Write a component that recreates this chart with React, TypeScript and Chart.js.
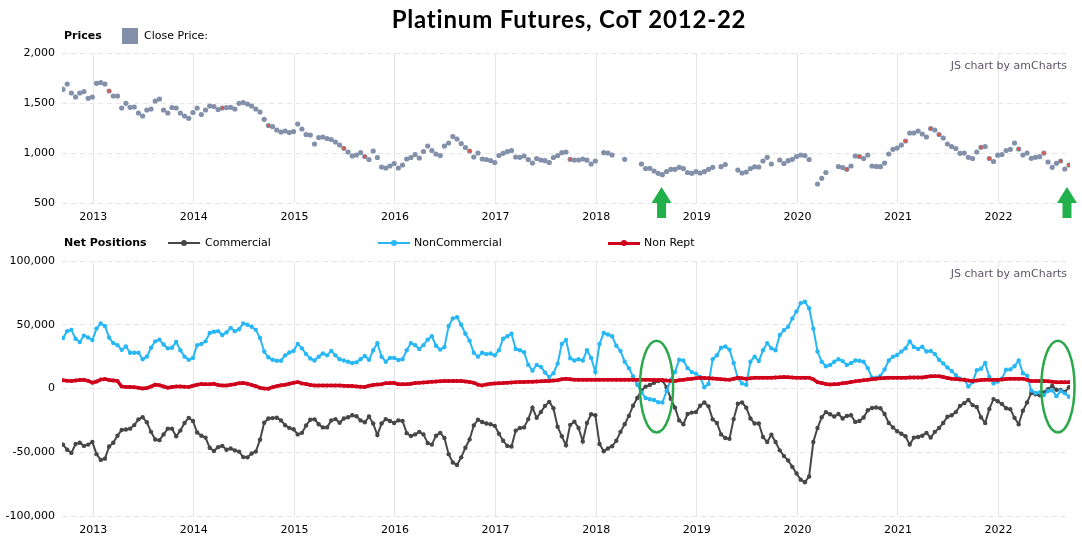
import React, { useEffect, useRef } from "react";
import { Chart, registerables } from "chart.js";

Chart.register(...registerables);

// Semi-monthly observations, first one at 2012.70 (decimal year)
const START_YEAR = 2012.7;
const STEP_YEARS = 1 / 24;
const yearTicks = [2013, 2014, 2015, 2016, 2017, 2018, 2019, 2020, 2021, 2022];

// Platinum close price (USD/oz); null = no quote in that half-month
const closePrice: (number | null)[] = [
  1637, 1690, 1600, 1560, 1600, 1615, 1547, 1560, 1697, 1705,
  1690, 1620, 1570, 1570, 1450, 1497, 1457, 1460, 1400, 1370,
  1430, 1440, 1520, 1540, 1430, 1400, 1455, 1450, 1400, 1370,
  1347, 1405, 1450, 1385, 1430, 1470, 1465, 1435, 1450, 1455,
  1457, 1440, 1497, 1505, 1490, 1470, 1440, 1410, 1337, 1275,
  1265, 1230, 1210, 1220, 1205, 1215, 1290, 1240, 1185, 1180,
  1090, 1155, 1160, 1145, 1135, 1110, 1080, 1047, 1010, 970,
  980, 1005, 965, 935, 1020, 955, 860, 850, 870, 895,
  850, 880, 940, 955, 985, 950, 1015, 1070, 1025, 990,
  975, 1070, 1100, 1165, 1140, 1095, 1055, 1020, 960, 1000,
  940, 935, 925, 905, 975, 997, 1013, 1025, 960, 957,
  970, 935, 900, 945, 930, 923, 905, 955, 975, 1003,
  1010, 937, 930, 930, 940, 928, 890, 920, null, 1003,
  1000, 980, null, null, 937, null, null, null, 890, 845,
  847, 820, 797, 783, 815, 837, 837, 857, 845, 805,
  797, 813, 800, 813, 837, 857, null, 863, 885, null,
  null, 830, 800, 810, 845, 862, 860, 920, 957, 890,
  null, 930, 895, 923, 937, 965, 980, 975, 935, null,
  690, 747, 805, null, null, 865, 855, 837, 870, 970,
  965, 945, 980, 870, 866, 863, 900, 990, 1037, 1050,
  1080, 1120, 1200, 1200, 1220, 1190, 1160, 1245, 1230, 1185,
  1150, 1090, 1065, 1045, 997, 1000, 957, 945, 1010, 1057,
  1065, 945, 915, 978, 985, 1025, 1037, 1100, 1040, 980,
  1000, 947, 957, 963, 1000, 910, 857, 897, 920, 840,
  880,
];

// Half-months whose close is flagged red (down week) in the price panel
const redPriceIdx = [11, 38, 49, 67, 72, 97, 121, 187, 190, 201, 207, 209, 219, 221, 228, 234, 238, 240];

// Net positions, thousands of contracts
const commercialK = [
  -44, -48, -50.5, -43.5, -42.5, -45, -44, -42, -51.5, -56,
  -55, -45.5, -42.5, -37, -32.5, -32.2, -31.5, -28.7, -24.2, -22.5,
  -26.5, -34, -40, -40.5, -36, -31.5, -31.5, -37.5, -33, -27,
  -23, -25.5, -34.5, -37, -38.5, -46.5, -49, -46, -45, -48,
  -47, -48.5, -49.5, -53.8, -54, -51, -49.5, -40.2, -26.9, -23.5,
  -23.2, -22.9, -25, -28.8, -30.9, -32, -36, -34.8, -29, -24.5,
  -24.2, -28, -30.5, -30.5, -25, -24, -26.9, -23.5, -22.6, -21,
  -21.8, -25, -26.5, -22, -27.5, -36.5, -27.5, -24, -25.5, -27,
  -25, -25.5, -35, -37.3, -36, -34, -36, -42.8, -44, -37,
  -34.8, -38.8, -51.5, -58, -60, -54, -46.5, -40, -29, -24.5,
  -26.3, -27.4, -28, -29.3, -35.5, -41, -45, -45.5, -33, -31,
  -30.5, -24, -15, -23, -18.5, -13.6, -10.5, -15.5, -30, -37.5,
  -44.5, -28.5, -26, -31, -41.5, -27, -20.2, -21, -43.5, -49.2,
  -47, -45.3, -41, -34, -28, -21.5, -13.5, -7.5, -1.5, 1.5,
  2.8, 4.5, 5.9, 6.2, 1, -8, -15, -25, -28, -20,
  -18.9, -18.5, -13.5, -11, -14, -24.2, -27, -36, -38.8, -39.5,
  -24, -12, -11, -15, -23.5, -27.5, -27.5, -38, -42, -36.2,
  -42, -48.5, -53, -56.5, -61.5, -66.7, -71.5, -73.5, -69, -42,
  -31, -22.5, -18.5, -20.2, -22, -20, -23.5, -21.5, -21, -26.2,
  -25.5, -22.8, -17, -15.3, -14.9, -15.5, -20, -27, -30.5, -33.5,
  -35.5, -37.5, -44, -38.5, -38, -37, -34.8, -38.5, -34, -31,
  -27, -22.2, -21, -18.5, -13.6, -11.5, -9, -13, -14.5, -22.5,
  -27, -16, -8.3, -10, -12.2, -15.5, -16.2, -23, -28, -17.5,
  -11, -3.5, -4.5, -5.3, -3, -0.5, 2, -1, -1.2, -2.8,
  1,
];

const nonCommercialK = [
  39.6, 45, 46, 39, 36.5, 41.5, 40, 38, 47, 51,
  49, 40, 35.6, 34, 30.3, 33, 28, 28, 28, 23,
  25, 32, 37, 38.3, 34.5, 31.5, 32, 36.5, 30, 25,
  22.5, 24, 34, 35, 37, 43.5, 44.5, 45, 42, 44,
  47.5, 45, 46.5, 51, 50, 48.4, 46, 39.6, 29, 24.5,
  22.5, 21.8, 21.8, 26, 28.2, 29.5, 35, 31.5, 27, 23.5,
  22, 25, 27.5, 26, 29.5, 26, 23, 22, 21, 20,
  20.5, 23, 25.5, 22.5, 30, 35.5, 25, 21, 24, 24,
  22.3, 23, 30, 35.6, 34, 31, 34, 38.3, 41, 33.5,
  30.5, 32.5, 49, 55, 56, 50, 43, 37.5, 28, 25,
  28, 27, 27.5, 26, 30, 39, 41, 43, 31, 30,
  28.5, 18.5, 14, 18.5, 17, 12.5, 9, 12, 19.5, 35,
  38, 23.7, 22, 23, 22, 30, 24, 13, 35, 43.5,
  42.3, 41, 33.5, 29.5, 21, 16, 9.5, 3, -3, -7.5,
  -8.4, -9, -10.8, -11, -2, 7, 13, 22.5, 22, 16,
  13, 11.7, 9, 1, 3.5, 23, 26, 32, 33, 30.5,
  20, 8, 4, 3, 21, 25, 21.5, 30, 35.6, 31.5,
  30, 42, 45.8, 48.5, 55, 60.5, 67, 68, 63, 47,
  29, 21, 17.5, 18.4, 21, 23, 21.5, 18.4, 20, 22,
  21.8, 21, 16, 8.5, 8.5, 9.8, 15, 22, 25, 26.3,
  29, 31.5, 37, 32.5, 31, 32.8, 29, 29.5, 27, 22.5,
  19.7, 16.5, 13.7, 10.5, 7.7, 7, 1.5, 5, 14.4, 15.5,
  20, 9, 4, 5.5, 7.7, 14.8, 15, 17.5, 22, 12,
  10, -1.6, -3.5, -3, -5.2, -2, -1.5, -6, -2, -3.8,
  -6.5,
];

const nonReptK = [
  6.4, 6, 5.9, 6.3, 6.6, 6.8, 6, 4.6, 5.5, 7,
  7.5, 6.6, 6.2, 5.8, 1.6, 1.1, 1.1, 1, 0.6, 0,
  0.4, 1.5, 3, 2.5, 1.6, 0.6, 1.2, 1.5, 1.6, 1.3,
  1.2, 2.2, 3, 3.6, 3.3, 3.4, 3.7, 2.8, 2.4, 2.4,
  2.9, 3.4, 4.2, 4.3, 3.8, 2.8, 1.8, 0.5, 0, -0.2,
  1, 1.8, 2.5, 3, 3.7, 4.5, 5, 4, 3.5, 2.8,
  2.4, 2.4, 2.4, 2.4, 2.4, 2.4, 2.4, 2.2, 2, 1.9,
  1.6, 1.3, 1.2, 2.2, 2.8, 3.1, 3.4, 4.2, 4.3, 4.3,
  3.4, 3.3, 3.3, 3.8, 4.3, 4.5, 4.8, 5, 5.2, 5.5,
  5.7, 5.9, 5.9, 5.9, 5.9, 5.9, 5.5, 5.1, 4.5, 3,
  2.4, 3.2, 3.7, 4, 4.2, 4.3, 4.6, 4.8, 5, 5.1,
  5.1, 5.2, 5.3, 5.5, 5.6, 5.8, 5.9, 6.2, 6.5, 7.3,
  7.7, 7.3, 6.9, 6.9, 6.8, 6.9, 6.9, 6.8, 6.9, 6.9,
  6.9, 6.8, 6.9, 6.9, 6.9, 6.8, 6.9, 6.9, 6.9, 6.8,
  6.8, 6.7, 6.7, 6.7, 6.3, 6, 5.9, 6.4, 6.8, 7.3,
  7.7, 8, 8.4, 8.2, 8, 7.8, 7.6, 7.3, 7, 6.9,
  7.6, 8.4, 8, 7.7, 8, 8.4, 8.5, 8.5, 8.5, 8.5,
  8.7, 8.8, 9, 8.8, 8.6, 8.5, 8.5, 8.5, 8.5, 7.2,
  5, 4.3, 3.5, 3.2, 3.4, 3.6, 4.2, 4.5, 5.1, 5.6,
  6, 6.4, 6.9, 7.3, 7.7, 8, 8.2, 8.5, 8.5, 8.5,
  8.5, 8.5, 8.6, 8.6, 8.6, 8.6, 9.2, 9.6, 9.6, 9.6,
  9, 8.3, 7.7, 7.4, 7.1, 6.9, 6.3, 5.9, 6.2, 6.6,
  6.9, 6.9, 6.9, 6.9, 7.1, 7.4, 7.7, 7.7, 7.7, 7.7,
  6.8, 5.9, 5.9, 5.9, 5.9, 5.6, 5.3, 5, 5, 5,
  5,
];

// Annotation anchors (decimal years / axis values)
const arrowYears = [2018.65, 2022.68];
const circleYears = [2018.6, 2022.59];

const FONT = "'DejaVu Sans', Verdana, sans-serif";
const GRID = "#e6e6e6";
const GREEN = "#22b04b";
const PRICE_COLOR = "#8390aa";
const PRICE_DOWN_COLOR = "#e0533f";
const COMM_COLOR = "#474747";
const NONCOMM_COLOR = "#27b7f5";
const NONREPT_COLOR = "#d0021b";

const dates = closePrice.map((_, i) => START_YEAR + i * STEP_YEARS);

function fmt(v: number): string {
  const s = String(Math.abs(Math.round(v))).replace(/\B(?=(\d{3})+(?!\d))/g, ",");
  return (v < 0 ? "-" : "") + s;
}

function xScaleOpts(height: number) {
  return {
    type: "linear" as const,
    min: 2012.69,
    max: 2022.71,
    afterBuildTicks: (a: any) => {
      a.ticks = yearTicks.map((v) => ({ value: v }));
    },
    afterFit: (s: any) => {
      s.height = height;
    },
    ticks: {
      padding: 8,
      autoSkip: false,
      maxRotation: 0,
      color: "#000",
      font: { family: FONT, size: 11 },
      callback: (v: any) => String(v),
    },
    grid: { color: GRID, drawTicks: false },
    border: { display: false },
  };
}

function yScaleOpts(min: number, max: number, step: number) {
  return {
    min,
    max,
    afterFit: (s: any) => {
      s.width = 62;
    },
    ticks: {
      stepSize: step,
      padding: 7,
      color: "#000",
      font: { family: FONT, size: 11 },
      callback: (v: any) => fmt(Number(v)),
    },
    grid: { color: GRID, drawTicks: false },
    border: { display: false, dash: [5, 4] },
  };
}

const arrowPlugin = {
  id: "arrows",
  afterDraw(chart: any) {
    const { ctx, scales } = chart;
    const xs = scales.x;
    const ys = scales.y;
    const tipY = ys.getPixelForValue(660);
    const baseY = ys.getPixelForValue(500);
    const tailY = ys.getPixelForValue(350);
    ctx.save();
    ctx.fillStyle = GREEN;
    arrowYears.forEach((yr) => {
      const cx = xs.getPixelForValue(yr);
      ctx.beginPath();
      ctx.moveTo(cx, tipY);
      ctx.lineTo(cx + 10, baseY);
      ctx.lineTo(cx + 4.5, baseY);
      ctx.lineTo(cx + 4.5, tailY);
      ctx.lineTo(cx - 4.5, tailY);
      ctx.lineTo(cx - 4.5, baseY);
      ctx.lineTo(cx - 10, baseY);
      ctx.closePath();
      ctx.fill();
    });
    ctx.restore();
  },
};

const ellipsePlugin = {
  id: "ellipses",
  afterDraw(chart: any) {
    const { ctx, scales } = chart;
    const xs = scales.x;
    const ys = scales.y;
    const cy = ys.getPixelForValue(1500);
    const ry = Math.abs(ys.getPixelForValue(36000) - ys.getPixelForValue(0));
    ctx.save();
    ctx.strokeStyle = "#2aa84a";
    ctx.lineWidth = 2.5;
    circleYears.forEach((yr) => {
      const cx = xs.getPixelForValue(yr);
      const rx = xs.getPixelForValue(yr + 0.165) - cx;
      ctx.beginPath();
      ctx.ellipse(cx, cy, rx, ry, 0, 0, Math.PI * 2);
      ctx.stroke();
    });
    ctx.restore();
  },
};

const textStyle: React.CSSProperties = {
  position: "absolute",
  fontFamily: FONT,
  fontSize: 11,
  lineHeight: "14px",
  color: "#000",
  whiteSpace: "nowrap",
};

function LegendLine({ left, top, color, width }: { left: number; top: number; color: string; width: number }) {
  return (
    <div style={{ position: "absolute", left, top, width: 32, height: 10 }}>
      <div style={{ position: "absolute", left: 0, top: 5 - width / 2, width: 32, height: width, background: color }} />
      <div style={{ position: "absolute", left: 13, top: 2, width: 6, height: 6, borderRadius: 3, background: color }} />
    </div>
  );
}

export default function App() {
  const topRef = useRef<HTMLCanvasElement | null>(null);
  const botRef = useRef<HTMLCanvasElement | null>(null);

  useEffect(() => {
    const priceData = dates
      .map((x, i) => ({ x, y: closePrice[i] }))
      .filter((p) => p.y !== null) as { x: number; y: number }[];
    const redData = redPriceIdx
      .filter((i) => closePrice[i] !== null)
      .map((i) => ({ x: dates[i], y: closePrice[i] as number }));

    const top = new Chart(topRef.current as HTMLCanvasElement, {
      type: "scatter",
      data: {
        datasets: [
          {
            label: "Close Price (down)",
            data: redData,
            backgroundColor: PRICE_DOWN_COLOR,
            borderColor: PRICE_DOWN_COLOR,
            pointStyle: "rect",
            pointRadius: 2,
            pointHoverRadius: 2,
            pointBorderWidth: 0,
            showLine: false,
            order: 0,
          },
          {
            label: "Close Price",
            data: priceData,
            backgroundColor: PRICE_COLOR,
            borderColor: PRICE_COLOR,
            pointRadius: 2.6,
            pointHoverRadius: 2.6,
            pointBorderWidth: 0,
            showLine: false,
            order: 1,
          },
        ],
      },
      options: {
        animation: false,
        responsive: false,
        maintainAspectRatio: false,
        events: [],
        layout: { padding: { top: 53, right: 12, left: 0, bottom: 0 } },
        plugins: { legend: { display: false }, tooltip: { enabled: false }, title: { display: false } },
        scales: {
          x: xScaleOpts(27) as any,
          y: yScaleOpts(500, 2000, 500) as any,
        },
      },
      plugins: [arrowPlugin],
    });

    const mk = (arr: number[]) => dates.map((x, i) => ({ x, y: arr[i] * 1000 }));

    const bottom = new Chart(botRef.current as HTMLCanvasElement, {
      type: "line",
      data: {
        datasets: [
          {
            label: "Non Rept",
            data: mk(nonReptK),
            borderColor: NONREPT_COLOR,
            backgroundColor: NONREPT_COLOR,
            borderWidth: 3.5,
            pointRadius: 2,
            pointBorderWidth: 0,
            tension: 0,
            order: 0,
          },
          {
            label: "NonCommercial",
            data: mk(nonCommercialK),
            borderColor: NONCOMM_COLOR,
            backgroundColor: NONCOMM_COLOR,
            borderWidth: 2,
            pointRadius: 2.2,
            pointBorderWidth: 0,
            tension: 0,
            order: 1,
          },
          {
            label: "Commercial",
            data: mk(commercialK),
            borderColor: COMM_COLOR,
            backgroundColor: COMM_COLOR,
            borderWidth: 2,
            pointRadius: 2.2,
            pointBorderWidth: 0,
            tension: 0,
            order: 2,
          },
        ],
      },
      options: {
        animation: false,
        responsive: false,
        maintainAspectRatio: false,
        events: [],
        layout: { padding: { top: 31, right: 12, left: 0, bottom: 0 } },
        plugins: { legend: { display: false }, tooltip: { enabled: false }, title: { display: false } },
        scales: {
          x: xScaleOpts(26) as any,
          y: yScaleOpts(-100000, 100000, 50000) as any,
        },
      },
      plugins: [ellipsePlugin],
    });

    return () => {
      top.destroy();
      bottom.destroy();
    };
  }, []);

  return (
    <div style={{ position: "absolute", left: 0, top: 0, width: 1082, height: 542, background: "#fff", overflow: "hidden" }}>
      <canvas ref={topRef} width={1082} height={230} style={{ position: "absolute", left: 0, top: 0, display: "block" }} />
      <canvas ref={botRef} width={1082} height={312} style={{ position: "absolute", left: 0, top: 230, display: "block" }} />

      <div
        style={{
          position: "absolute",
          left: 0,
          top: 4,
          width: 1138,
          textAlign: "center",
          fontFamily: "Lato, 'Open Sans', sans-serif",
          fontWeight: 700,
          fontSize: 24,
          letterSpacing: "0.8px",
          lineHeight: "30px",
          color: "#000",
        }}
      >
        Platinum Futures, CoT 2012-22
      </div>

      <div style={{ ...textStyle, left: 64, top: 29, fontWeight: 700 }}>Prices</div>
      <div style={{ position: "absolute", left: 122, top: 28, width: 16, height: 16, background: PRICE_COLOR }} />
      <div style={{ ...textStyle, left: 144, top: 29 }}>Close Price:</div>
      <div style={{ ...textStyle, right: 15, top: 59, color: "#5d5468" }}>JS chart by amCharts</div>

      <div style={{ ...textStyle, left: 64, top: 236, fontWeight: 700 }}>Net Positions</div>
      <LegendLine left={168} top={238} color={COMM_COLOR} width={2} />
      <div style={{ ...textStyle, left: 205, top: 236 }}>Commercial</div>
      <LegendLine left={378} top={238} color={NONCOMM_COLOR} width={2} />
      <div style={{ ...textStyle, left: 414, top: 236 }}>NonCommercial</div>
      <LegendLine left={608} top={238} color={NONREPT_COLOR} width={3} />
      <div style={{ ...textStyle, left: 644, top: 236 }}>Non Rept</div>
      <div style={{ ...textStyle, right: 15, top: 267, color: "#5d5468" }}>JS chart by amCharts</div>
    </div>
  );
}
